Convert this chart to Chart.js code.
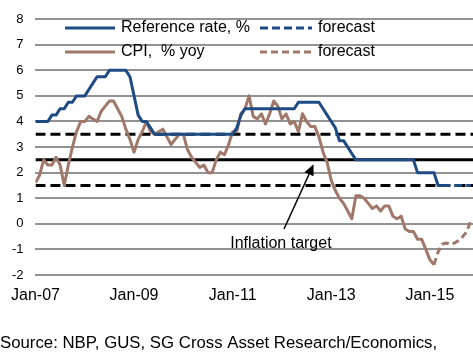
<!DOCTYPE html>
<html>
<head>
<meta charset="utf-8">
<script src="https://cdn.jsdelivr.net/npm/chart.js@4.4.1/dist/chart.umd.min.js"></script>
<style>
html,body{margin:0;padding:0;background:#fff;overflow:hidden}
</style>
</head>
<body>
<canvas id="chart" width="473" height="353"></canvas>
<script>
// x values are months counted from Jan-07
const tickMonths = [0, 24, 48, 72, 96];
const tickLabels = ['Jan-07', 'Jan-09', 'Jan-11', 'Jan-13', 'Jan-15'];

// NBP reference rate, %, monthly from Jan-07
const refRate = [
  4.0, 4.0, 4.0, 4.0, 4.25, 4.25, 4.5, 4.5, 4.75, 4.75, 5.0, 5.0,
  5.0, 5.25, 5.5, 5.75, 5.75, 5.75, 6.0, 6.0, 6.0, 6.0, 6.0, 5.75,
  5.0, 4.25, 4.0, 4.0, 3.75, 3.5, 3.5, 3.5, 3.5, 3.5, 3.5, 3.5,
  3.5, 3.5, 3.5, 3.5, 3.5, 3.5, 3.5, 3.5, 3.5, 3.5, 3.5, 3.5,
  3.5, 3.75, 4.25, 4.5, 4.5, 4.5, 4.5, 4.5, 4.5, 4.5, 4.5, 4.5,
  4.5, 4.5, 4.5, 4.5, 4.75, 4.75, 4.75, 4.75, 4.75, 4.75, 4.5, 4.25,
  4.0, 3.75, 3.25, 3.25, 3.0, 2.75, 2.5, 2.5, 2.5, 2.5, 2.5, 2.5,
  2.5, 2.5, 2.5, 2.5, 2.5, 2.5, 2.5, 2.5, 2.5, 2.0, 2.0, 2.0,
  2.0, 2.0, 1.5, 1.5
];
const refRateForecastStart = 99;
const refRateForecast = [1.5, 1.5, 1.5, 1.5, 1.5, 1.5, 1.5, 1.5];

// CPI, % yoy, monthly from Jan-07
const cpi = [
  1.6, 1.9, 2.5, 2.3, 2.3, 2.6, 2.3, 1.5, 2.3, 3.0, 3.6, 4.0,
  4.0, 4.2, 4.1, 4.0, 4.4, 4.6, 4.8, 4.8, 4.5, 4.2, 3.7, 3.3,
  2.8, 3.3, 3.6, 4.0, 3.6, 3.5, 3.6, 3.7, 3.4, 3.1, 3.3, 3.5,
  3.5, 2.9, 2.6, 2.4, 2.2, 2.3, 2.0, 2.0, 2.5, 2.8, 2.7, 3.1,
  3.6, 3.6, 4.3, 4.5, 5.0, 4.2, 4.1, 4.3, 3.9, 4.3, 4.8, 4.6,
  4.1, 4.3, 3.9, 4.0, 3.6, 4.3, 4.0, 3.8, 3.8, 3.4, 2.8, 2.4,
  1.7, 1.3, 1.0, 0.8, 0.5, 0.2, 1.1, 1.1, 1.0, 0.8, 0.6, 0.7,
  0.5, 0.7, 0.7, 0.3, 0.2, 0.3, -0.2, -0.3, -0.3, -0.6, -0.6, -1.0,
  -1.4, -1.6
];
const cpiForecastStart = 97;
const cpiForecast = [-1.6, -1.1, -0.8, -0.75, -0.8, -0.75, -0.65, -0.5, -0.3, 0.15];

// inflation target 2.5% +/- 1pp
const targetLevels = [3.5, 2.5, 1.5];

const xMax = 106.5;
const NAVY = '#1f4b84';
const BROWN = '#a0786a';
const FONT = "'Liberation Sans', Arial, sans-serif";

const toPoints = (arr, start) => arr.map((v, i) => ({x: start + i, y: v}));
const flat = v => [{x: 0, y: v}, {x: xMax, y: v}];

const datasets = [
  {label: 'Reference rate, %', data: toPoints(refRate, 0), borderColor: NAVY, borderWidth: 3, order: 0},
  {label: 'forecast', data: toPoints(refRateForecast, refRateForecastStart), borderColor: NAVY, borderWidth: 3, borderDash: [8, 4], order: 0},
  {label: 'CPI,  % yoy', data: toPoints(cpi, 0), borderColor: BROWN, borderWidth: 3, order: 1},
  {label: 'forecast', data: toPoints(cpiForecast, cpiForecastStart), borderColor: BROWN, borderWidth: 3, borderDash: [7, 4], order: 1},
  {label: 'upper', data: flat(targetLevels[0]), borderColor: '#000', borderWidth: 3, borderDash: [10, 5], order: 2},
  {label: 'target', data: flat(targetLevels[1]), borderColor: '#000', borderWidth: 3, order: 2},
  {label: 'lower', data: flat(targetLevels[2]), borderColor: '#000', borderWidth: 3, borderDash: [10, 5], order: 2}
];

// legend + annotation + source line
const extras = {
  id: 'extras',
  afterDraw(chart) {
    const ctx = chart.ctx;
    const xs = chart.scales.x, ys = chart.scales.y;
    ctx.save();
    ctx.font = '16px ' + FONT;
    ctx.fillStyle = '#000';
    ctx.textBaseline = 'middle';
    const rows = [
      {y: 28, items: [[0, 65, 115], [1, 260, 312]]},
      {y: 52, items: [[2, 65, 115], [3, 260, 312]]}
    ];
    rows.forEach(r => {
      r.items.forEach(([di, x0, x1]) => {
        const ds = datasets[di];
        ctx.beginPath();
        ctx.strokeStyle = ds.borderColor;
        ctx.lineWidth = 3;
        ctx.setLineDash(ds.borderDash || []);
        ctx.moveTo(x0, r.y);
        ctx.lineTo(x1, r.y);
        ctx.stroke();
        ctx.setLineDash([]);
        ctx.fillText(ds.label, x1 + 6, r.y);
      });
    });

    // arrow to the target line
    const tail = {x: xs.getPixelForValue(60.5), y: ys.getPixelForValue(-0.2)};
    const tip = {x: xs.getPixelForValue(67.7), y: ys.getPixelForValue(2.33)};
    const ang = Math.atan2(tip.y - tail.y, tip.x - tail.x);
    const hl = 11, hw = 5;
    const bx = tip.x - hl * Math.cos(ang), by = tip.y - hl * Math.sin(ang);
    ctx.strokeStyle = '#000';
    ctx.lineWidth = 1.5;
    ctx.beginPath();
    ctx.moveTo(tail.x, tail.y);
    ctx.lineTo(bx, by);
    ctx.stroke();
    ctx.beginPath();
    ctx.moveTo(tip.x, tip.y);
    ctx.lineTo(bx + hw * Math.sin(ang), by - hw * Math.cos(ang));
    ctx.lineTo(bx - hw * Math.sin(ang), by + hw * Math.cos(ang));
    ctx.closePath();
    ctx.fill();

    ctx.textAlign = 'left';
    ctx.fillText('Inflation target', xs.getPixelForValue(47.4), ys.getPixelForValue(-0.78));

    ctx.font = '16.8px ' + FONT;
    ctx.fillText('Source: NBP, GUS, SG Cross Asset Research/Economics,', 0, 343);
    ctx.restore();
  }
};

new Chart(document.getElementById('chart'), {
  type: 'line',
  data: {datasets},
  plugins: [extras],
  options: {
    responsive: false,
    animation: false,
    layout: {padding: 0},
    plugins: {legend: {display: false}, tooltip: {enabled: false}},
    elements: {point: {radius: 0}, line: {tension: 0, borderJoinStyle: 'round', fill: false}},
    scales: {
      x: {
        type: 'linear', min: 0, max: xMax,
        grid: {display: false, drawTicks: false},
        border: {display: false},
        afterBuildTicks: s => { s.ticks = tickMonths.map(v => ({value: v})); },
        afterFit: s => { s.height = 78; },
        ticks: {
          autoSkip: false, maxRotation: 0, padding: 11, color: '#000',
          font: {family: FONT, size: 16},
          callback: v => tickLabels[tickMonths.indexOf(v)] || ''
        }
      },
      y: {
        min: -2, max: 8,
        grid: {color: '#929292', lineWidth: 2, drawTicks: false},
        border: {display: false},
        afterFit: s => { s.width = 32; },
        ticks: {stepSize: 1, padding: 12, color: '#000', font: {family: FONT, size: 13, lineHeight: 1.1}}
      }
    }
  }
});
</script>
</body>
</html>
